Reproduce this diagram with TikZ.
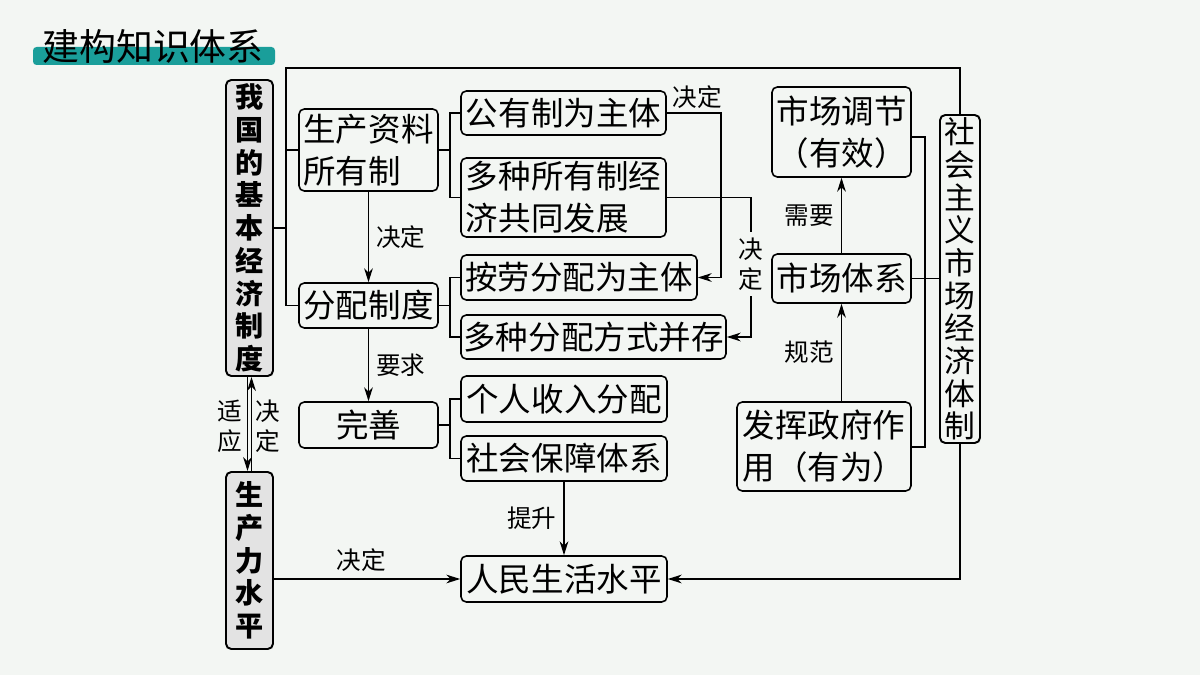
\documentclass[tikz,border=0pt]{standalone}
\usepackage{fontspec}
\setmainfont{Noto Sans CJK SC}
\usepackage{tikz}
\usetikzlibrary{arrows.meta,calc}
\definecolor{bgc}{HTML}{F3F6F3}
\definecolor{teal}{HTML}{1A9E9A}
\tikzset{
  box/.style={draw,line width=0.9pt,rounded corners=3pt,inner sep=0pt,align=left,
    font=\fontsize{18.5}{24}\selectfont},
  gbox/.style={draw,line width=1.1pt,rounded corners=3pt,inner sep=0pt,fill=gray!22,
    align=center,font=\bfseries\fontsize{16}{18.6}\selectfont},
  sbox/.style={draw,line width=1.1pt,rounded corners=3pt,inner sep=0pt,
    align=center,font=\fontsize{17.5}{18.6}\selectfont},
  lab/.style={font=\fontsize{14}{16}\selectfont,inner sep=1pt},
  ln/.style={line width=0.8pt},
  arr/.style={ln,-{Stealth[length=8pt,width=5pt]}}
}
\newcommand{\bx}[6]{\node[#1,minimum width=#4*0.02cm,minimum height=#5*0.02cm] (#2) at (#3) {#6};}
\begin{document}
\begin{tikzpicture}[x=0.02cm,y=-0.02cm]
  \fill[bgc] (0,0) rectangle (1200,675);
  \useasboundingbox (0,0) rectangle (1200,675);
  % title
  \fill[teal,rounded corners=2pt] (33,47) rectangle (275,65);
  \node[font=\fontsize{21}{22}\selectfont,inner sep=0pt] (title) at (153,46) {建构知识体系};
  % boxes
  \bx{gbox}{jb}{249.5,228}{47}{296}{我\\国\\的\\基\\本\\经\\济\\制\\度}
  \bx{gbox}{scl}{249.5,560.5}{47}{177}{生\\产\\力\\水\\平}
  \bx{box}{sczl}{368.5,150}{139}{82}{生产资料\\所有制}
  \bx{box}{fpzd}{368.5,305.5}{139}{45}{分配制度}
  \bx{box,align=center}{ws}{368.5,425}{139}{46}{完善}
  \bx{box}{gyz}{563.5,113}{205}{44}{公有制为主体}
  \bx{box}{dzsy}{563.5,197.5}{205}{79}{多种所有制经\\济共同发展}
  \bx{box}{al}{579,277.5}{236}{45}{按劳分配为主体}
  \bx{box}{dzfp}{593.5,337}{265}{44}{多种分配方式并存}
  \bx{box}{grsr}{564,399}{206}{46}{个人收入分配}
  \bx{box}{shbz}{564,458.5}{206}{45}{社会保障体系}
  \bx{box}{rmsh}{564,579}{206}{46}{人民生活水平}
  \bx{box}{sctj}{841.5,132}{139}{90}{市场调节\\（有效）}
  \bx{box}{sctx}{841.5,278.5}{139}{49}{市场体系}
  \bx{box}{fhzf}{824,446.5}{174}{89}{发挥政府作\\用（有为）}
  \bx{sbox}{shzy}{960,279}{40}{328}{社\\会\\主\\义\\市\\场\\经\\济\\体\\制}
  % left bracket and top line
  \coordinate (t1) at (286,68);
  \coordinate (t2) at (286,305.5);
  \draw[ln] (jb.east) -- (jb.east -| t1);
  \draw[ln] (shzy.north) -- (shzy.north |- t1) -- (t1) -- (t2) -- (fpzd.west);
  \draw[ln] (sczl.west) -- (sczl.west -| t1);
  % brackets
  \coordinate (b1) at (450,113);
  \draw[ln] (sczl.east) -- (sczl.east -| b1);
  \draw[ln] (gyz.west) -- (b1) -- (b1 |- dzsy.west) -- (dzsy.west);
  \coordinate (b2) at (450,277.5);
  \draw[ln] (fpzd.east) -- (fpzd.east -| b2);
  \draw[ln] (al.west) -- (b2) -- (b2 |- dzfp.west) -- (dzfp.west);
  \coordinate (b3) at (450,399);
  \draw[ln] (ws.east) -- (ws.east -| b3);
  \draw[ln] (grsr.west) -- (b3) -- (b3 |- shbz.west) -- (shbz.west);
  \coordinate (r1) at (925,137);
  \coordinate (r2) at (925,447);
  \draw[ln] (sctj.east |- r1) -- (r1) -- (r2) -- (fhzf.east |- r2);
  \draw[ln] (sctx.east) -- (shzy.west |- sctx.east);
  % arrows
  \draw[arr] (sczl.south) -- node[lab,right=3pt] {决定} (fpzd.north);
  \draw[arr] (fpzd.south) -- node[lab,right=3pt] {要求} (ws.north);
  \coordinate (d1) at (721,113);
  \draw[arr] (gyz.east) -- (d1) -- (d1 |- al.east) -- (al.east);
  \node[lab] (jd1) at (697,97) {决定};
  \coordinate (d2) at (751,197.5);
  \draw[arr] (dzsy.east) -- (d2) -- (d2 |- dzfp.east) -- (dzfp.east);
  \node[lab,fill=bgc,align=center,inner ysep=3pt,font=\fontsize{14}{17}\selectfont] (jd2) at (751,264) {决\\定};
  \draw[arr] (shbz.south) -- node[lab,left=3pt] {提升} (rmsh.north);
  \draw[arr] (scl.east |- rmsh.west) -- node[lab,above=3pt,pos=0.47] {决定} (rmsh.west);
  \coordinate (c1) at (960,579);
  \draw[arr] (shzy.south) -- (c1) -- (rmsh.east);
  \draw[arr] (sctx.north) -- node[lab,left=3pt] {需要} (sctj.south);
  \draw[arr] (fhzf.north -| sctx) -- node[lab,left=3pt] {规范} (sctx.south);
  % double link
  \draw[arr] ([xshift=-0.04cm]jb.south) -- ([xshift=-0.04cm]scl.north);
  \draw[arr] ([xshift=0.04cm]scl.north) -- ([xshift=0.04cm]jb.south);
  \node[lab,align=center,font=\fontsize{14}{17}\selectfont] (sy) at (230,426) {适\\应};
  \node[lab,align=center,font=\fontsize{14}{17}\selectfont] (jd3) at (268,426) {决\\定};
\end{tikzpicture}
\end{document}
